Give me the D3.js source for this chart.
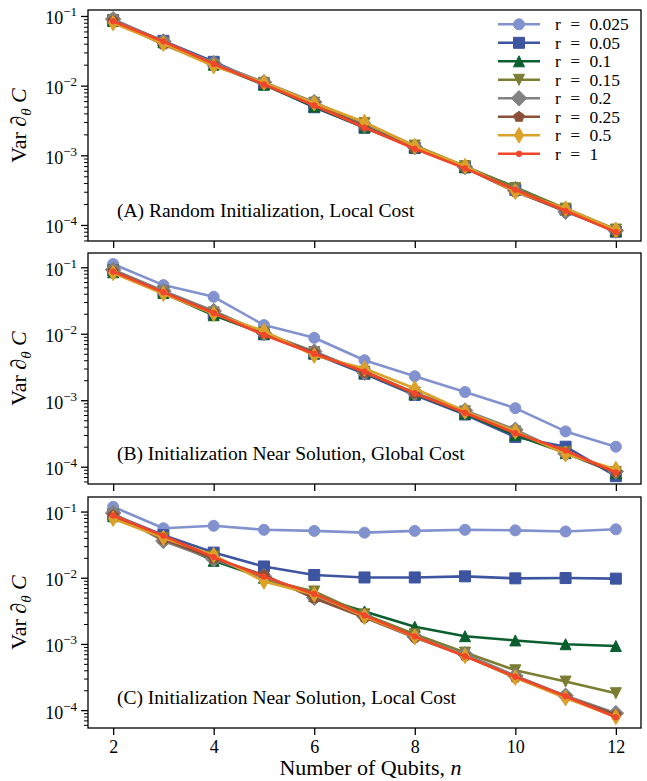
<!DOCTYPE html>
<html>
<head>
  <title>Gradient variance vs number of qubits</title>
  <script src="https://d3js.org/d3.v7.min.js"></script>
  <style>
    body { margin: 0; background: #fff; }
    text { font-family: "Liberation Serif", "DejaVu Serif", serif; fill: #000; }
  </style>
</head>
<body>
  <svg id="chart" width="647" height="781"></svg>
  <script>
    // data
    const qubits = [2, 3, 4, 5, 6, 7, 8, 9, 10, 11, 12];
    const rLabels = ["0.025", "0.05", "0.1", "0.15", "0.2", "0.25", "0.5", "1"];

    // (A) random initialization, local cost -- one row per r
    const varRandomLocal = [
      [0.088, 0.043, 0.021, 0.0104, 0.0051, 0.0026, 0.00128, 0.00066, 0.00033, 0.000163, 0.000082],
      [0.087, 0.044, 0.022, 0.0105, 0.0049, 0.0025, 0.00127, 0.00067, 0.00032, 0.000166, 0.000080],
      [0.085, 0.042, 0.020, 0.0103, 0.0050, 0.0025, 0.00130, 0.00068, 0.00035, 0.000168, 0.000082],
      [0.088, 0.041, 0.020, 0.0110, 0.0057, 0.0029, 0.00138, 0.00070, 0.00034, 0.000172, 0.000086],
      [0.090, 0.043, 0.021, 0.0112, 0.0058, 0.0027, 0.00132, 0.00068, 0.00031, 0.000155, 0.000083],
      [0.086, 0.039, 0.020, 0.0106, 0.0055, 0.0026, 0.00126, 0.00066, 0.00030, 0.000160, 0.000080],
      [0.079, 0.040, 0.019, 0.0111, 0.0056, 0.0030, 0.00135, 0.00070, 0.00030, 0.000172, 0.000085],
      [0.084, 0.043, 0.0205, 0.0104, 0.0052, 0.0025, 0.00124, 0.00065, 0.00032, 0.000160, 0.000079]
    ];

    // (B) initialization near solution, global cost
    const varNearGlobal = [
      [0.112, 0.054, 0.036, 0.0135, 0.0087, 0.0040, 0.0023, 0.00133, 0.00076, 0.00034, 0.000200],
      [0.090, 0.043, 0.020, 0.0098, 0.0050, 0.0025, 0.00120, 0.00061, 0.00028, 0.000200, 0.000072],
      [0.084, 0.041, 0.019, 0.0100, 0.0051, 0.0026, 0.00125, 0.00063, 0.00030, 0.000160, 0.000080],
      [0.088, 0.043, 0.021, 0.0104, 0.0053, 0.0027, 0.00130, 0.00068, 0.00034, 0.000165, 0.000083],
      [0.092, 0.044, 0.022, 0.0102, 0.0054, 0.0026, 0.00128, 0.00070, 0.00036, 0.000158, 0.000085],
      [0.087, 0.042, 0.021, 0.0100, 0.0052, 0.0026, 0.00126, 0.00066, 0.00033, 0.000162, 0.000082],
      [0.082, 0.040, 0.020, 0.0110, 0.0047, 0.0030, 0.00150, 0.00068, 0.00034, 0.000155, 0.000092],
      [0.086, 0.042, 0.0205, 0.0096, 0.0050, 0.0027, 0.00127, 0.00065, 0.00032, 0.000175, 0.000082]
    ];

    // (C) initialization near solution, local cost
    const varNearLocal = [
      [0.118, 0.056, 0.061, 0.053, 0.051, 0.048, 0.051, 0.053, 0.052, 0.050, 0.054],
      [0.090, 0.044, 0.024, 0.0148, 0.0110, 0.0101, 0.0101, 0.0105, 0.0098, 0.0099, 0.0097],
      [0.085, 0.040, 0.018, 0.0100, 0.0053, 0.0031, 0.00182, 0.00131, 0.00113, 0.00099, 0.00093],
      [0.090, 0.040, 0.021, 0.0095, 0.0062, 0.0028, 0.00140, 0.00074, 0.00040, 0.000270, 0.000180],
      [0.095, 0.036, 0.019, 0.0105, 0.0050, 0.0026, 0.00128, 0.00070, 0.00033, 0.000165, 0.000090],
      [0.088, 0.038, 0.0195, 0.0110, 0.0049, 0.0025, 0.00125, 0.00066, 0.00031, 0.000160, 0.000085],
      [0.078, 0.040, 0.022, 0.0088, 0.0056, 0.0026, 0.00128, 0.00066, 0.00031, 0.000152, 0.000079],
      [0.087, 0.043, 0.0205, 0.0104, 0.0057, 0.0027, 0.00130, 0.00065, 0.00032, 0.000162, 0.000078]
    ];

    const yTicks = [1e-1, 1e-2, 1e-3, 1e-4];
    const yTickExp = ["\u22121", "\u22122", "\u22123", "\u22124"];
    const xTicks = [2, 4, 6, 8, 10, 12];

    // styles
    const colors = ["#8292cf", "#3d54a0", "#0b5f2e", "#7b7e32", "#828282", "#8b5038", "#dca129", "#f2462a"];
    const markers = ["o", "s", "^", "v", "D", "p", "d", "."];

    const panels = [
      {title: "(A) Random Initialization, Local Cost", values: varRandomLocal, top: 10, lo: -4.23, hi: -0.914},
      {title: "(B) Initialization Near Solution, Global Cost", values: varNearGlobal, top: 253, lo: -4.26, hi: -0.785},
      {title: "(C) Initialization Near Solution, Local Cost", values: varNearLocal, top: 497, lo: -4.27, hi: -0.78}
    ];

    const left = 88, right = 641, panelH = 231;
    const svg = d3.select("#chart");

    const x = d3.scaleLinear().domain([1.5, 12.5]).range([left, right]);

    // marker shapes, s = marker size in px (matplotlib conventions)
    function markerPath(kind, s) {
      const p = d3.path(), h = s / 2, d = h * Math.SQRT2;
      if (kind === "o" || kind === ".") {
        const r = kind === "o" ? h : h / 2;
        p.moveTo(r, 0);
        p.arc(0, 0, r, 0, 2 * Math.PI);
      } else if (kind === "s") {
        p.rect(-h, -h, s, s);
      } else if (kind === "^") {
        p.moveTo(0, -h); p.lineTo(h, h); p.lineTo(-h, h); p.closePath();
      } else if (kind === "v") {
        p.moveTo(0, h); p.lineTo(h, -h); p.lineTo(-h, -h); p.closePath();
      } else if (kind === "D") {
        p.moveTo(0, -d); p.lineTo(d, 0); p.lineTo(0, d); p.lineTo(-d, 0); p.closePath();
      } else if (kind === "d") {
        p.moveTo(0, -d); p.lineTo(0.6 * d, 0); p.lineTo(0, d); p.lineTo(-0.6 * d, 0); p.closePath();
      } else if (kind === "p") {
        for (let i = 0; i < 5; i++) {
          const a = -Math.PI / 2 + i * 2 * Math.PI / 5;
          if (i) p.lineTo(h * Math.cos(a), h * Math.sin(a));
          else p.moveTo(h * Math.cos(a), h * Math.sin(a));
        }
        p.closePath();
      }
      return p.toString();
    }

    const mSize = 11;

    panels.forEach((pan, pi) => {
      const bottom = pan.top + panelH;
      const y = d3.scaleLog().domain([Math.pow(10, pan.lo), Math.pow(10, pan.hi)]).range([bottom, pan.top]);
      const g = svg.append("g");

      // minor y ticks
      const minor = [];
      for (let e = -5; e <= 0; e++) {
        for (let m = 2; m <= 9; m++) {
          const v = m * Math.pow(10, e);
          if (v >= y.domain()[0] && v <= y.domain()[1]) minor.push(v);
        }
      }
      g.append("g")
        .attr("transform", `translate(${left},0)`)
        .call(d3.axisLeft(y).tickValues(minor).tickSize(4).tickFormat(""))
        .call(a => a.select(".domain").remove())
        .selectAll("line").attr("stroke-width", 1);

      // major y ticks with 10^k labels
      const yAx = g.append("g")
        .attr("transform", `translate(${left},0)`)
        .call(d3.axisLeft(y).tickValues(yTicks).tickSize(7).tickFormat(""))
        .call(a => a.select(".domain").remove());
      yAx.selectAll("line").attr("stroke-width", 1.3);
      yAx.selectAll(".tick text").remove();
      yAx.selectAll(".tick").each(function (d, i) {
        const t = d3.select(this).append("text")
          .attr("x", -11).attr("y", 8)
          .attr("text-anchor", "end")
          .style("font-size", "18px");
        t.append("tspan").text("10");
        t.append("tspan").attr("dy", -8).style("font-size", "13px").text(yTickExp[i]);
      });

      // x ticks (labels on last panel only)
      const xAx = g.append("g")
        .attr("transform", `translate(0,${bottom})`)
        .call(d3.axisBottom(x).tickValues(xTicks).tickSize(7).tickPadding(5)
          .tickFormat(pi === panels.length - 1 ? d3.format("d") : ""))
        .call(a => a.select(".domain").remove());
      xAx.selectAll("line").attr("stroke-width", 1.3);
      xAx.selectAll("text").attr("fill", "#000").style("font-size", "18px")
        .style("font-family", "'Liberation Serif', serif");

      // series
      pan.values.forEach((vals, si) => {
        const pts = qubits.map((n, k) => [n, vals[k]]);
        const sg = g.append("g");
        sg.append("path")
          .datum(pts)
          .attr("fill", "none")
          .attr("stroke", colors[si])
          .attr("stroke-width", 2.6)
          .attr("stroke-linejoin", "round")
          .attr("d", d3.line().x(d => x(d[0])).y(d => y(d[1])));
        sg.selectAll("path.m")
          .data(pts)
          .join("path")
          .attr("class", "m")
          .attr("transform", d => `translate(${x(d[0])},${y(d[1])})`)
          .attr("d", markerPath(markers[si], mSize))
          .attr("fill", colors[si])
          .attr("stroke", colors[si])
          .attr("stroke-width", 1);
      });

      // frame
      g.append("rect")
        .attr("x", left).attr("y", pan.top)
        .attr("width", right - left).attr("height", panelH)
        .attr("fill", "none").attr("stroke", "#000").attr("stroke-width", 1.3);

      // panel annotation
      g.append("text")
        .attr("x", 117).attr("y", bottom - 24)
        .style("font-size", "19.5px")
        .text(pan.title);

      // y label
      const yl = g.append("text")
        .attr("transform", `translate(26,${pan.top + panelH / 2}) rotate(-90)`)
        .attr("text-anchor", "middle")
        .style("font-size", "22px");
      yl.append("tspan").text("Var ");
      yl.append("tspan").style("font-style", "italic").text("\u2202");
      yl.append("tspan").style("font-style", "italic").style("font-size", "15px").attr("dy", 5).text("\u03b8");
      yl.append("tspan").style("font-style", "italic").attr("dy", -5).text(" C");
    });

    // x label
    const xl = svg.append("text")
      .attr("x", (left + right) / 2 + 6).attr("y", 775)
      .attr("text-anchor", "middle")
      .style("font-size", "22px");
    xl.append("tspan").text("Number of Qubits, ");
    xl.append("tspan").style("font-style", "italic").text("n");

    // legend in panel A
    const leg = svg.append("g");
    rLabels.forEach((r, i) => {
      const cy = 24.3 + i * 18.5;
      leg.append("line")
        .attr("x1", 498).attr("x2", 540).attr("y1", cy).attr("y2", cy)
        .attr("stroke", colors[i]).attr("stroke-width", 2.6);
      leg.append("path")
        .attr("transform", `translate(519,${cy})`)
        .attr("d", markerPath(markers[i], mSize))
        .attr("fill", colors[i]).attr("stroke", colors[i]).attr("stroke-width", 1);
      leg.append("text")
        .attr("x", 555).attr("y", cy + 6)
        .style("font-size", "17.5px")
        .style("word-spacing", "5px")
        .text("r = " + r);
    });
  </script>
</body>
</html>
